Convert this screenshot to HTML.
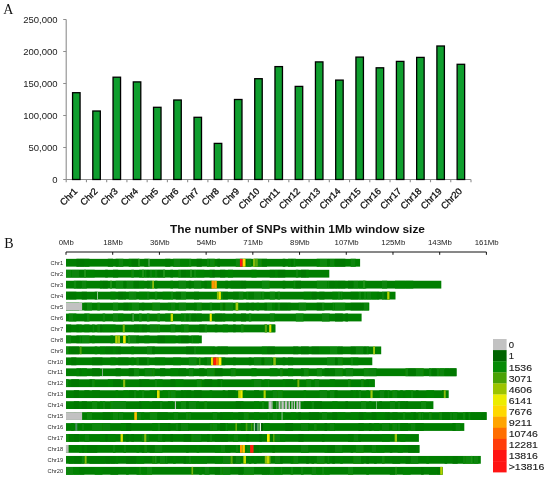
<!DOCTYPE html><html><head><meta charset="utf-8"><style>html,body{margin:0;padding:0;background:#fff}svg{display:block;will-change:transform}text{font-family:"Liberation Sans",sans-serif}</style></head><body>
<svg width="550" height="480" viewBox="0 0 550 480">
<rect width="550" height="480" fill="#fff"/>
<text x="3.3" y="13.8" style="font-family:'Liberation Serif',serif" font-size="14" fill="#111">A</text>
<text x="4.2" y="247.6" style="font-family:'Liberation Serif',serif" font-size="14" fill="#111">B</text>
<g stroke="#8e8e8e" stroke-width="1.1" fill="none">
<path d="M66.2,19.5V179.5H471.0"/>
<path d="M63.2,179.5H66.2M63.2,147.5H66.2M63.2,115.5H66.2M63.2,83.5H66.2M63.2,51.5H66.2M63.2,19.5H66.2M66.20,179.5v2.8M86.44,179.5v2.8M106.68,179.5v2.8M126.92,179.5v2.8M147.16,179.5v2.8M167.40,179.5v2.8M187.64,179.5v2.8M207.88,179.5v2.8M228.12,179.5v2.8M248.36,179.5v2.8M268.60,179.5v2.8M288.84,179.5v2.8M309.08,179.5v2.8M329.32,179.5v2.8M349.56,179.5v2.8M369.80,179.5v2.8M390.04,179.5v2.8M410.28,179.5v2.8M430.52,179.5v2.8M450.76,179.5v2.8M471.00,179.5v2.8"/>
</g>
<text x="57.6" y="182.8" font-size="9.5" text-anchor="end" fill="#1a1a1a">0</text>
<text x="57.6" y="150.8" font-size="9.5" text-anchor="end" fill="#1a1a1a">50,000</text>
<text x="57.6" y="118.8" font-size="9.5" text-anchor="end" fill="#1a1a1a">100,000</text>
<text x="57.6" y="86.8" font-size="9.5" text-anchor="end" fill="#1a1a1a">150,000</text>
<text x="57.6" y="54.8" font-size="9.5" text-anchor="end" fill="#1a1a1a">200,000</text>
<text x="57.6" y="22.8" font-size="9.5" text-anchor="end" fill="#1a1a1a">250,000</text>
<rect x="72.57" y="92.7" width="7.5" height="86.8" fill="#0f9e2e" stroke="#000" stroke-width="1.3"/>
<rect x="92.81" y="111.0" width="7.5" height="68.5" fill="#0f9e2e" stroke="#000" stroke-width="1.3"/>
<rect x="113.05" y="77.2" width="7.5" height="102.3" fill="#0f9e2e" stroke="#000" stroke-width="1.3"/>
<rect x="133.29" y="81.9" width="7.5" height="97.6" fill="#0f9e2e" stroke="#000" stroke-width="1.3"/>
<rect x="153.53" y="107.3" width="7.5" height="72.2" fill="#0f9e2e" stroke="#000" stroke-width="1.3"/>
<rect x="173.77" y="100.0" width="7.5" height="79.5" fill="#0f9e2e" stroke="#000" stroke-width="1.3"/>
<rect x="194.01" y="117.3" width="7.5" height="62.2" fill="#0f9e2e" stroke="#000" stroke-width="1.3"/>
<rect x="214.25" y="143.4" width="7.5" height="36.1" fill="#0f9e2e" stroke="#000" stroke-width="1.3"/>
<rect x="234.49" y="99.5" width="7.5" height="80.0" fill="#0f9e2e" stroke="#000" stroke-width="1.3"/>
<rect x="254.73" y="78.7" width="7.5" height="100.8" fill="#0f9e2e" stroke="#000" stroke-width="1.3"/>
<rect x="274.97" y="66.6" width="7.5" height="112.9" fill="#0f9e2e" stroke="#000" stroke-width="1.3"/>
<rect x="295.21" y="86.4" width="7.5" height="93.1" fill="#0f9e2e" stroke="#000" stroke-width="1.3"/>
<rect x="315.45" y="61.9" width="7.5" height="117.6" fill="#0f9e2e" stroke="#000" stroke-width="1.3"/>
<rect x="335.69" y="80.1" width="7.5" height="99.4" fill="#0f9e2e" stroke="#000" stroke-width="1.3"/>
<rect x="355.93" y="57.1" width="7.5" height="122.4" fill="#0f9e2e" stroke="#000" stroke-width="1.3"/>
<rect x="376.17" y="67.8" width="7.5" height="111.7" fill="#0f9e2e" stroke="#000" stroke-width="1.3"/>
<rect x="396.41" y="61.4" width="7.5" height="118.1" fill="#0f9e2e" stroke="#000" stroke-width="1.3"/>
<rect x="416.65" y="57.4" width="7.5" height="122.1" fill="#0f9e2e" stroke="#000" stroke-width="1.3"/>
<rect x="436.89" y="46.0" width="7.5" height="133.5" fill="#0f9e2e" stroke="#000" stroke-width="1.3"/>
<rect x="457.13" y="64.3" width="7.5" height="115.2" fill="#0f9e2e" stroke="#000" stroke-width="1.3"/>
<text transform="translate(78.02,191.8) rotate(-45)" font-size="9.3" text-anchor="end" fill="#111" stroke="#111" stroke-width="0.3">Chr1</text>
<text transform="translate(98.26,191.8) rotate(-45)" font-size="9.3" text-anchor="end" fill="#111" stroke="#111" stroke-width="0.3">Chr2</text>
<text transform="translate(118.50,191.8) rotate(-45)" font-size="9.3" text-anchor="end" fill="#111" stroke="#111" stroke-width="0.3">Chr3</text>
<text transform="translate(138.74,191.8) rotate(-45)" font-size="9.3" text-anchor="end" fill="#111" stroke="#111" stroke-width="0.3">Chr4</text>
<text transform="translate(158.98,191.8) rotate(-45)" font-size="9.3" text-anchor="end" fill="#111" stroke="#111" stroke-width="0.3">Chr5</text>
<text transform="translate(179.22,191.8) rotate(-45)" font-size="9.3" text-anchor="end" fill="#111" stroke="#111" stroke-width="0.3">Chr6</text>
<text transform="translate(199.46,191.8) rotate(-45)" font-size="9.3" text-anchor="end" fill="#111" stroke="#111" stroke-width="0.3">Chr7</text>
<text transform="translate(219.70,191.8) rotate(-45)" font-size="9.3" text-anchor="end" fill="#111" stroke="#111" stroke-width="0.3">Chr8</text>
<text transform="translate(239.94,191.8) rotate(-45)" font-size="9.3" text-anchor="end" fill="#111" stroke="#111" stroke-width="0.3">Chr9</text>
<text transform="translate(260.18,191.8) rotate(-45)" font-size="9.3" text-anchor="end" fill="#111" stroke="#111" stroke-width="0.3">Chr10</text>
<text transform="translate(280.42,191.8) rotate(-45)" font-size="9.3" text-anchor="end" fill="#111" stroke="#111" stroke-width="0.3">Chr11</text>
<text transform="translate(300.66,191.8) rotate(-45)" font-size="9.3" text-anchor="end" fill="#111" stroke="#111" stroke-width="0.3">Chr12</text>
<text transform="translate(320.90,191.8) rotate(-45)" font-size="9.3" text-anchor="end" fill="#111" stroke="#111" stroke-width="0.3">Chr13</text>
<text transform="translate(341.14,191.8) rotate(-45)" font-size="9.3" text-anchor="end" fill="#111" stroke="#111" stroke-width="0.3">Chr14</text>
<text transform="translate(361.38,191.8) rotate(-45)" font-size="9.3" text-anchor="end" fill="#111" stroke="#111" stroke-width="0.3">Chr15</text>
<text transform="translate(381.62,191.8) rotate(-45)" font-size="9.3" text-anchor="end" fill="#111" stroke="#111" stroke-width="0.3">Chr16</text>
<text transform="translate(401.86,191.8) rotate(-45)" font-size="9.3" text-anchor="end" fill="#111" stroke="#111" stroke-width="0.3">Chr17</text>
<text transform="translate(422.10,191.8) rotate(-45)" font-size="9.3" text-anchor="end" fill="#111" stroke="#111" stroke-width="0.3">Chr18</text>
<text transform="translate(442.34,191.8) rotate(-45)" font-size="9.3" text-anchor="end" fill="#111" stroke="#111" stroke-width="0.3">Chr19</text>
<text transform="translate(462.58,191.8) rotate(-45)" font-size="9.3" text-anchor="end" fill="#111" stroke="#111" stroke-width="0.3">Chr20</text>
<text x="170" y="233.1" font-size="10.7" font-weight="bold" fill="#111" textLength="255" lengthAdjust="spacingAndGlyphs">The number of SNPs within 1Mb window size</text>
<path d="M66.0,254.8V252.0H486.4V254.8" stroke="#111" stroke-width="1" fill="none"/>
<path d="M112.71,252.0v2.8M159.42,252.0v2.8M206.13,252.0v2.8M252.84,252.0v2.8M299.56,252.0v2.8M346.27,252.0v2.8M392.98,252.0v2.8M439.69,252.0v2.8" stroke="#111" stroke-width="1" fill="none"/>
<text x="58.80" y="244.8" font-size="7" fill="#222" textLength="15.0" lengthAdjust="spacingAndGlyphs">0Mb</text>
<text x="103.26" y="244.8" font-size="7" fill="#222" textLength="19.5" lengthAdjust="spacingAndGlyphs">18Mb</text>
<text x="149.97" y="244.8" font-size="7" fill="#222" textLength="19.5" lengthAdjust="spacingAndGlyphs">36Mb</text>
<text x="196.68" y="244.8" font-size="7" fill="#222" textLength="19.5" lengthAdjust="spacingAndGlyphs">54Mb</text>
<text x="243.39" y="244.8" font-size="7" fill="#222" textLength="19.5" lengthAdjust="spacingAndGlyphs">71Mb</text>
<text x="290.11" y="244.8" font-size="7" fill="#222" textLength="19.5" lengthAdjust="spacingAndGlyphs">89Mb</text>
<text x="334.57" y="244.8" font-size="7" fill="#222" textLength="24.0" lengthAdjust="spacingAndGlyphs">107Mb</text>
<text x="381.28" y="244.8" font-size="7" fill="#222" textLength="24.0" lengthAdjust="spacingAndGlyphs">125Mb</text>
<text x="427.99" y="244.8" font-size="7" fill="#222" textLength="24.0" lengthAdjust="spacingAndGlyphs">143Mb</text>
<text x="474.70" y="244.8" font-size="7" fill="#222" textLength="24.0" lengthAdjust="spacingAndGlyphs">161Mb</text>
<defs><filter id="hb" x="-2%" y="-2%" width="104%" height="104%"><feGaussianBlur stdDeviation="0.55 0.3"/></filter></defs><g filter="url(#hb)">
<rect x="66.0" y="258.85" width="294.1" height="7.8" fill="#047e04"/>
<rect x="66.0" y="269.80" width="263.3" height="7.8" fill="#047e04"/>
<rect x="66.0" y="280.75" width="375.3" height="7.8" fill="#047e04"/>
<rect x="66.0" y="291.70" width="329.5" height="7.8" fill="#047e04"/>
<rect x="66.0" y="302.65" width="303.3" height="7.8" fill="#047e04"/>
<rect x="66.0" y="313.60" width="295.6" height="7.8" fill="#047e04"/>
<rect x="66.0" y="324.55" width="209.5" height="7.8" fill="#047e04"/>
<rect x="66.0" y="335.50" width="135.8" height="7.8" fill="#047e04"/>
<rect x="66.0" y="346.45" width="315.2" height="7.8" fill="#047e04"/>
<rect x="66.0" y="357.40" width="306.3" height="7.8" fill="#047e04"/>
<rect x="66.0" y="368.35" width="390.5" height="7.8" fill="#047e04"/>
<rect x="66.0" y="379.30" width="308.9" height="7.8" fill="#047e04"/>
<rect x="66.0" y="390.25" width="382.7" height="7.8" fill="#047e04"/>
<rect x="66.0" y="401.20" width="367.4" height="7.8" fill="#047e04"/>
<rect x="66.0" y="412.15" width="420.7" height="7.8" fill="#047e04"/>
<rect x="66.0" y="423.10" width="398.3" height="7.8" fill="#047e04"/>
<rect x="66.0" y="434.05" width="352.9" height="7.8" fill="#047e04"/>
<rect x="66.0" y="445.00" width="353.4" height="7.8" fill="#047e04"/>
<rect x="66.0" y="455.95" width="414.8" height="7.8" fill="#047e04"/>
<rect x="66.0" y="466.90" width="376.6" height="7.8" fill="#047e04"/>
<path fill="#037803" d="M76.4,258.85h2.6v7.8h-2.6zM79.1,258.85h5.2v7.8h-5.2zM131.3,258.85h7.8v7.8h-7.8zM196.6,258.85h5.2v7.8h-5.2zM217.4,258.85h2.6v7.8h-2.6zM243.6,258.85h2.6v7.8h-2.6zM290.6,258.85h2.6v7.8h-2.6zM335.0,258.85h5.2v7.8h-5.2zM340.2,258.85h5.2v7.8h-5.2zM146.9,269.80h2.6v7.8h-2.6zM157.4,269.80h7.8v7.8h-7.8zM180.9,269.80h5.2v7.8h-5.2zM212.2,269.80h2.6v7.8h-2.6zM277.5,269.80h7.8v7.8h-7.8zM301.0,269.80h5.2v7.8h-5.2zM102.6,280.75h5.2v7.8h-5.2zM123.4,280.75h2.6v7.8h-2.6zM133.9,280.75h5.2v7.8h-5.2zM188.7,280.75h2.6v7.8h-2.6zM204.4,280.75h2.6v7.8h-2.6zM240.9,280.75h2.6v7.8h-2.6zM243.6,280.75h2.6v7.8h-2.6zM295.8,280.75h5.2v7.8h-5.2zM329.7,280.75h5.2v7.8h-5.2zM337.6,280.75h2.6v7.8h-2.6zM348.0,280.75h2.6v7.8h-2.6zM350.6,280.75h2.6v7.8h-2.6zM68.6,291.70h7.8v7.8h-7.8zM81.7,291.70h5.2v7.8h-5.2zM94.7,291.70h2.6v7.8h-2.6zM118.2,291.70h5.2v7.8h-5.2zM175.7,291.70h5.2v7.8h-5.2zM222.7,291.70h5.2v7.8h-5.2zM311.5,291.70h5.2v7.8h-5.2zM384.6,291.70h5.2v7.8h-5.2zM123.4,302.65h5.2v7.8h-5.2zM222.7,302.65h2.6v7.8h-2.6zM264.4,302.65h2.6v7.8h-2.6zM274.9,302.65h2.6v7.8h-2.6zM280.1,302.65h7.8v7.8h-7.8zM316.7,302.65h5.2v7.8h-5.2zM350.6,302.65h5.2v7.8h-5.2zM355.8,302.65h5.2v7.8h-5.2zM361.1,302.65h2.6v7.8h-2.6zM131.3,313.60h2.6v7.8h-2.6zM191.3,313.60h5.2v7.8h-5.2zM214.8,313.60h7.8v7.8h-7.8zM240.9,313.60h5.2v7.8h-5.2zM335.0,313.60h7.8v7.8h-7.8zM345.4,313.60h2.6v7.8h-2.6zM66.0,324.55h5.2v7.8h-5.2zM99.9,324.55h2.6v7.8h-2.6zM141.7,324.55h2.6v7.8h-2.6zM199.2,324.55h5.2v7.8h-5.2zM233.1,324.55h2.6v7.8h-2.6zM157.4,335.50h7.8v7.8h-7.8zM180.9,335.50h7.8v7.8h-7.8zM71.2,346.45h7.8v7.8h-7.8zM118.2,346.45h2.6v7.8h-2.6zM152.2,346.45h2.6v7.8h-2.6zM186.1,346.45h5.2v7.8h-5.2zM191.3,346.45h2.6v7.8h-2.6zM267.1,346.45h7.8v7.8h-7.8zM293.2,346.45h2.6v7.8h-2.6zM301.0,346.45h7.8v7.8h-7.8zM311.5,346.45h7.8v7.8h-7.8zM340.2,346.45h2.6v7.8h-2.6zM350.6,346.45h5.2v7.8h-5.2zM363.7,346.45h2.6v7.8h-2.6zM71.2,357.40h2.6v7.8h-2.6zM73.8,357.40h2.6v7.8h-2.6zM92.1,357.40h2.6v7.8h-2.6zM94.7,357.40h5.2v7.8h-5.2zM99.9,357.40h2.6v7.8h-2.6zM139.1,357.40h7.8v7.8h-7.8zM261.8,357.40h2.6v7.8h-2.6zM335.0,357.40h2.6v7.8h-2.6zM92.1,368.35h7.8v7.8h-7.8zM128.7,368.35h5.2v7.8h-5.2zM214.8,368.35h7.8v7.8h-7.8zM324.5,368.35h5.2v7.8h-5.2zM408.1,368.35h7.8v7.8h-7.8zM431.6,368.35h5.2v7.8h-5.2zM449.8,368.35h6.7v7.8h-6.7zM71.2,379.30h7.8v7.8h-7.8zM89.5,379.30h2.6v7.8h-2.6zM113.0,379.30h7.8v7.8h-7.8zM139.1,379.30h2.6v7.8h-2.6zM170.4,379.30h5.2v7.8h-5.2zM204.4,379.30h7.8v7.8h-7.8zM217.4,379.30h2.6v7.8h-2.6zM73.8,390.25h5.2v7.8h-5.2zM154.8,390.25h5.2v7.8h-5.2zM180.9,390.25h2.6v7.8h-2.6zM186.1,390.25h5.2v7.8h-5.2zM193.9,390.25h7.8v7.8h-7.8zM227.9,390.25h7.8v7.8h-7.8zM335.0,390.25h2.6v7.8h-2.6zM73.8,401.20h5.2v7.8h-5.2zM81.7,401.20h5.2v7.8h-5.2zM139.1,401.20h2.6v7.8h-2.6zM186.1,401.20h2.6v7.8h-2.6zM235.7,401.20h5.2v7.8h-5.2zM303.6,401.20h2.6v7.8h-2.6zM306.2,401.20h5.2v7.8h-5.2zM314.1,401.20h7.8v7.8h-7.8zM345.4,401.20h2.6v7.8h-2.6zM405.5,401.20h2.6v7.8h-2.6zM102.6,412.15h7.8v7.8h-7.8zM220.1,412.15h2.6v7.8h-2.6zM298.4,412.15h2.6v7.8h-2.6zM308.8,412.15h2.6v7.8h-2.6zM311.5,412.15h7.8v7.8h-7.8zM332.3,412.15h5.2v7.8h-5.2zM358.5,412.15h5.2v7.8h-5.2zM371.5,412.15h5.2v7.8h-5.2zM387.2,412.15h2.6v7.8h-2.6zM413.3,412.15h2.6v7.8h-2.6zM465.5,412.15h2.6v7.8h-2.6zM481.2,412.15h5.2v7.8h-5.2zM126.1,423.10h5.2v7.8h-5.2zM167.8,423.10h2.6v7.8h-2.6zM220.1,423.10h5.2v7.8h-5.2zM251.4,423.10h2.6v7.8h-2.6zM285.3,423.10h7.8v7.8h-7.8zM324.5,423.10h2.6v7.8h-2.6zM73.8,434.05h5.2v7.8h-5.2zM105.2,434.05h2.6v7.8h-2.6zM126.1,434.05h2.6v7.8h-2.6zM170.4,434.05h2.6v7.8h-2.6zM183.5,434.05h7.8v7.8h-7.8zM220.1,434.05h7.8v7.8h-7.8zM246.2,434.05h2.6v7.8h-2.6zM259.2,434.05h2.6v7.8h-2.6zM298.4,434.05h5.2v7.8h-5.2zM81.7,445.00h2.6v7.8h-2.6zM86.9,445.00h2.6v7.8h-2.6zM89.5,445.00h7.8v7.8h-7.8zM149.6,445.00h5.2v7.8h-5.2zM254.0,445.00h5.2v7.8h-5.2zM272.3,445.00h2.6v7.8h-2.6zM327.1,445.00h7.8v7.8h-7.8zM408.1,445.00h7.8v7.8h-7.8zM73.8,455.95h7.8v7.8h-7.8zM105.2,455.95h5.2v7.8h-5.2zM126.1,455.95h7.8v7.8h-7.8zM133.9,455.95h2.6v7.8h-2.6zM183.5,455.95h2.6v7.8h-2.6zM233.1,455.95h2.6v7.8h-2.6zM243.6,455.95h2.6v7.8h-2.6zM280.1,455.95h2.6v7.8h-2.6zM306.2,455.95h2.6v7.8h-2.6zM332.3,455.95h2.6v7.8h-2.6zM366.3,455.95h2.6v7.8h-2.6zM405.5,455.95h5.2v7.8h-5.2zM452.5,455.95h2.6v7.8h-2.6zM455.1,455.95h2.6v7.8h-2.6zM214.8,466.90h5.2v7.8h-5.2zM238.3,466.90h5.2v7.8h-5.2zM421.1,466.90h2.6v7.8h-2.6zM436.8,466.90h5.8v7.8h-5.8z"/>
<path fill="#037b03" d="M84.3,258.85h5.2v7.8h-5.2zM107.8,258.85h5.2v7.8h-5.2zM115.6,258.85h2.6v7.8h-2.6zM144.3,258.85h5.2v7.8h-5.2zM165.2,258.85h5.2v7.8h-5.2zM261.8,258.85h5.2v7.8h-5.2zM282.7,258.85h2.6v7.8h-2.6zM327.1,258.85h2.6v7.8h-2.6zM79.1,269.80h7.8v7.8h-7.8zM105.2,269.80h2.6v7.8h-2.6zM113.0,269.80h5.2v7.8h-5.2zM170.4,269.80h2.6v7.8h-2.6zM186.1,269.80h7.8v7.8h-7.8zM220.1,269.80h2.6v7.8h-2.6zM222.7,269.80h2.6v7.8h-2.6zM269.7,269.80h5.2v7.8h-5.2zM76.4,280.75h5.2v7.8h-5.2zM99.9,280.75h2.6v7.8h-2.6zM146.9,280.75h2.6v7.8h-2.6zM154.8,280.75h2.6v7.8h-2.6zM225.3,280.75h2.6v7.8h-2.6zM230.5,280.75h7.8v7.8h-7.8zM238.3,280.75h2.6v7.8h-2.6zM282.7,280.75h2.6v7.8h-2.6zM335.0,280.75h2.6v7.8h-2.6zM340.2,280.75h5.2v7.8h-5.2zM66.0,291.70h2.6v7.8h-2.6zM123.4,291.70h2.6v7.8h-2.6zM193.9,291.70h5.2v7.8h-5.2zM233.1,291.70h5.2v7.8h-5.2zM248.8,291.70h5.2v7.8h-5.2zM319.3,291.70h5.2v7.8h-5.2zM350.6,291.70h7.8v7.8h-7.8zM361.1,291.70h2.6v7.8h-2.6zM376.7,291.70h2.6v7.8h-2.6zM84.3,302.65h2.6v7.8h-2.6zM141.7,302.65h2.6v7.8h-2.6zM193.9,302.65h2.6v7.8h-2.6zM246.2,302.65h2.6v7.8h-2.6zM251.4,302.65h2.6v7.8h-2.6zM288.0,302.65h2.6v7.8h-2.6zM84.3,313.60h2.6v7.8h-2.6zM186.1,313.60h2.6v7.8h-2.6zM196.6,313.60h5.2v7.8h-5.2zM222.7,313.60h2.6v7.8h-2.6zM233.1,313.60h2.6v7.8h-2.6zM76.4,324.55h2.6v7.8h-2.6zM133.9,324.55h5.2v7.8h-5.2zM144.3,324.55h2.6v7.8h-2.6zM214.8,324.55h2.6v7.8h-2.6zM76.4,335.50h2.6v7.8h-2.6zM136.5,335.50h2.6v7.8h-2.6zM68.6,346.45h2.6v7.8h-2.6zM105.2,346.45h7.8v7.8h-7.8zM115.6,346.45h2.6v7.8h-2.6zM212.2,346.45h2.6v7.8h-2.6zM217.4,346.45h2.6v7.8h-2.6zM220.1,346.45h7.8v7.8h-7.8zM295.8,346.45h2.6v7.8h-2.6zM337.6,346.45h2.6v7.8h-2.6zM118.2,357.40h2.6v7.8h-2.6zM120.8,357.40h7.8v7.8h-7.8zM154.8,357.40h5.2v7.8h-5.2zM204.4,357.40h2.6v7.8h-2.6zM220.1,357.40h5.2v7.8h-5.2zM233.1,357.40h2.6v7.8h-2.6zM248.8,357.40h2.6v7.8h-2.6zM282.7,357.40h2.6v7.8h-2.6zM288.0,357.40h5.2v7.8h-5.2zM79.1,368.35h2.6v7.8h-2.6zM115.6,368.35h5.2v7.8h-5.2zM160.0,368.35h5.2v7.8h-5.2zM178.3,368.35h7.8v7.8h-7.8zM199.2,368.35h5.2v7.8h-5.2zM301.0,368.35h2.6v7.8h-2.6zM329.7,368.35h5.2v7.8h-5.2zM444.6,368.35h5.2v7.8h-5.2zM141.7,379.30h7.8v7.8h-7.8zM285.3,379.30h7.8v7.8h-7.8zM295.8,379.30h2.6v7.8h-2.6zM366.3,379.30h2.6v7.8h-2.6zM84.3,390.25h5.2v7.8h-5.2zM92.1,390.25h7.8v7.8h-7.8zM128.7,390.25h5.2v7.8h-5.2zM183.5,390.25h2.6v7.8h-2.6zM222.7,390.25h2.6v7.8h-2.6zM254.0,390.25h5.2v7.8h-5.2zM350.6,390.25h2.6v7.8h-2.6zM355.8,390.25h2.6v7.8h-2.6zM384.6,390.25h2.6v7.8h-2.6zM415.9,390.25h2.6v7.8h-2.6zM442.0,390.25h2.6v7.8h-2.6zM152.2,401.20h5.2v7.8h-5.2zM157.4,401.20h2.6v7.8h-2.6zM167.8,401.20h2.6v7.8h-2.6zM240.9,401.20h2.6v7.8h-2.6zM272.3,401.20h2.6v7.8h-2.6zM274.9,401.20h2.6v7.8h-2.6zM379.3,401.20h2.6v7.8h-2.6zM400.2,401.20h5.2v7.8h-5.2zM157.4,412.15h5.2v7.8h-5.2zM162.6,412.15h5.2v7.8h-5.2zM222.7,412.15h7.8v7.8h-7.8zM238.3,412.15h5.2v7.8h-5.2zM384.6,412.15h2.6v7.8h-2.6zM392.4,412.15h5.2v7.8h-5.2zM442.0,412.15h7.8v7.8h-7.8zM470.7,412.15h5.2v7.8h-5.2zM476.0,412.15h5.2v7.8h-5.2zM160.0,423.10h7.8v7.8h-7.8zM178.3,423.10h2.6v7.8h-2.6zM240.9,423.10h5.2v7.8h-5.2zM254.0,423.10h5.2v7.8h-5.2zM358.5,423.10h5.2v7.8h-5.2zM368.9,423.10h2.6v7.8h-2.6zM400.2,423.10h7.8v7.8h-7.8zM415.9,423.10h7.8v7.8h-7.8zM452.5,423.10h2.6v7.8h-2.6zM68.6,434.05h5.2v7.8h-5.2zM131.3,434.05h2.6v7.8h-2.6zM162.6,434.05h2.6v7.8h-2.6zM207.0,434.05h2.6v7.8h-2.6zM214.8,434.05h5.2v7.8h-5.2zM267.1,434.05h7.8v7.8h-7.8zM321.9,434.05h2.6v7.8h-2.6zM348.0,434.05h5.2v7.8h-5.2zM358.5,434.05h2.6v7.8h-2.6zM141.7,445.00h2.6v7.8h-2.6zM186.1,445.00h2.6v7.8h-2.6zM225.3,445.00h5.2v7.8h-5.2zM350.6,445.00h2.6v7.8h-2.6zM389.8,445.00h2.6v7.8h-2.6zM415.9,445.00h3.5v7.8h-3.5zM68.6,455.95h5.2v7.8h-5.2zM89.5,455.95h7.8v7.8h-7.8zM97.3,455.95h7.8v7.8h-7.8zM110.4,455.95h5.2v7.8h-5.2zM311.5,455.95h2.6v7.8h-2.6zM361.1,455.95h2.6v7.8h-2.6zM374.1,455.95h2.6v7.8h-2.6zM392.4,455.95h7.8v7.8h-7.8zM444.6,455.95h2.6v7.8h-2.6zM79.1,466.90h5.2v7.8h-5.2zM110.4,466.90h7.8v7.8h-7.8zM261.8,466.90h5.2v7.8h-5.2zM267.1,466.90h2.6v7.8h-2.6zM389.8,466.90h5.2v7.8h-5.2zM429.0,466.90h2.6v7.8h-2.6zM431.6,466.90h5.2v7.8h-5.2z"/>
<path fill="#078407" d="M118.2,258.85h5.2v7.8h-5.2zM173.1,258.85h2.6v7.8h-2.6zM175.7,258.85h5.2v7.8h-5.2zM207.0,258.85h2.6v7.8h-2.6zM246.2,258.85h5.2v7.8h-5.2zM293.2,258.85h2.6v7.8h-2.6zM329.7,258.85h5.2v7.8h-5.2zM350.6,258.85h5.2v7.8h-5.2zM71.2,269.80h5.2v7.8h-5.2zM76.4,269.80h2.6v7.8h-2.6zM144.3,269.80h2.6v7.8h-2.6zM149.6,269.80h2.6v7.8h-2.6zM154.8,269.80h2.6v7.8h-2.6zM295.8,269.80h2.6v7.8h-2.6zM81.7,280.75h5.2v7.8h-5.2zM126.1,280.75h7.8v7.8h-7.8zM149.6,280.75h2.6v7.8h-2.6zM178.3,280.75h7.8v7.8h-7.8zM193.9,280.75h7.8v7.8h-7.8zM293.2,280.75h2.6v7.8h-2.6zM327.1,280.75h2.6v7.8h-2.6zM353.2,280.75h5.2v7.8h-5.2zM382.0,280.75h5.2v7.8h-5.2zM133.9,291.70h2.6v7.8h-2.6zM146.9,291.70h2.6v7.8h-2.6zM238.3,291.70h5.2v7.8h-5.2zM246.2,291.70h2.6v7.8h-2.6zM254.0,291.70h7.8v7.8h-7.8zM277.5,291.70h2.6v7.8h-2.6zM340.2,291.70h2.6v7.8h-2.6zM366.3,291.70h5.2v7.8h-5.2zM382.0,291.70h2.6v7.8h-2.6zM71.2,302.65h2.6v7.8h-2.6zM170.4,302.65h5.2v7.8h-5.2zM178.3,302.65h2.6v7.8h-2.6zM180.9,302.65h5.2v7.8h-5.2zM235.7,302.65h2.6v7.8h-2.6zM277.5,302.65h2.6v7.8h-2.6zM298.4,302.65h7.8v7.8h-7.8zM321.9,302.65h2.6v7.8h-2.6zM332.3,302.65h2.6v7.8h-2.6zM363.7,302.65h5.2v7.8h-5.2zM68.6,313.60h5.2v7.8h-5.2zM102.6,313.60h2.6v7.8h-2.6zM113.0,313.60h5.2v7.8h-5.2zM183.5,313.60h2.6v7.8h-2.6zM188.7,313.60h2.6v7.8h-2.6zM248.8,313.60h2.6v7.8h-2.6zM269.7,313.60h2.6v7.8h-2.6zM272.3,313.60h2.6v7.8h-2.6zM321.9,313.60h7.8v7.8h-7.8zM92.1,324.55h2.6v7.8h-2.6zM149.6,324.55h7.8v7.8h-7.8zM170.4,324.55h5.2v7.8h-5.2zM204.4,324.55h2.6v7.8h-2.6zM66.0,335.50h5.2v7.8h-5.2zM79.1,335.50h2.6v7.8h-2.6zM128.7,335.50h2.6v7.8h-2.6zM131.3,335.50h5.2v7.8h-5.2zM191.3,335.50h2.6v7.8h-2.6zM146.9,346.45h5.2v7.8h-5.2zM193.9,346.45h2.6v7.8h-2.6zM355.8,346.45h7.8v7.8h-7.8zM366.3,346.45h2.6v7.8h-2.6zM146.9,357.40h2.6v7.8h-2.6zM207.0,357.40h5.2v7.8h-5.2zM254.0,357.40h7.8v7.8h-7.8zM144.3,368.35h7.8v7.8h-7.8zM188.7,368.35h5.2v7.8h-5.2zM230.5,368.35h2.6v7.8h-2.6zM345.4,368.35h7.8v7.8h-7.8zM368.9,368.35h7.8v7.8h-7.8zM429.0,368.35h2.6v7.8h-2.6zM439.4,368.35h5.2v7.8h-5.2zM66.0,379.30h2.6v7.8h-2.6zM154.8,379.30h2.6v7.8h-2.6zM220.1,379.30h2.6v7.8h-2.6zM254.0,379.30h7.8v7.8h-7.8zM267.1,379.30h2.6v7.8h-2.6zM314.1,379.30h5.2v7.8h-5.2zM133.9,390.25h2.6v7.8h-2.6zM167.8,390.25h2.6v7.8h-2.6zM272.3,390.25h2.6v7.8h-2.6zM274.9,390.25h2.6v7.8h-2.6zM319.3,390.25h7.8v7.8h-7.8zM329.7,390.25h5.2v7.8h-5.2zM358.5,390.25h2.6v7.8h-2.6zM379.3,390.25h5.2v7.8h-5.2zM387.2,390.25h2.6v7.8h-2.6zM395.0,390.25h2.6v7.8h-2.6zM102.6,401.20h2.6v7.8h-2.6zM113.0,401.20h5.2v7.8h-5.2zM118.2,401.20h7.8v7.8h-7.8zM160.0,401.20h2.6v7.8h-2.6zM188.7,401.20h7.8v7.8h-7.8zM311.5,401.20h2.6v7.8h-2.6zM389.8,401.20h5.2v7.8h-5.2zM397.6,401.20h2.6v7.8h-2.6zM73.8,412.15h2.6v7.8h-2.6zM118.2,412.15h5.2v7.8h-5.2zM133.9,412.15h7.8v7.8h-7.8zM173.1,412.15h5.2v7.8h-5.2zM188.7,412.15h2.6v7.8h-2.6zM212.2,412.15h5.2v7.8h-5.2zM267.1,412.15h2.6v7.8h-2.6zM272.3,412.15h5.2v7.8h-5.2zM321.9,412.15h5.2v7.8h-5.2zM421.1,412.15h2.6v7.8h-2.6zM449.8,412.15h2.6v7.8h-2.6zM452.5,412.15h5.2v7.8h-5.2zM468.1,412.15h2.6v7.8h-2.6zM81.7,423.10h2.6v7.8h-2.6zM102.6,423.10h7.8v7.8h-7.8zM175.7,423.10h2.6v7.8h-2.6zM180.9,423.10h7.8v7.8h-7.8zM209.6,423.10h2.6v7.8h-2.6zM225.3,423.10h2.6v7.8h-2.6zM246.2,423.10h5.2v7.8h-5.2zM301.0,423.10h7.8v7.8h-7.8zM329.7,423.10h5.2v7.8h-5.2zM382.0,423.10h7.8v7.8h-7.8zM395.0,423.10h2.6v7.8h-2.6zM410.7,423.10h5.2v7.8h-5.2zM455.1,423.10h2.6v7.8h-2.6zM457.7,423.10h2.6v7.8h-2.6zM84.3,434.05h5.2v7.8h-5.2zM141.7,434.05h7.8v7.8h-7.8zM157.4,434.05h5.2v7.8h-5.2zM193.9,434.05h7.8v7.8h-7.8zM233.1,434.05h5.2v7.8h-5.2zM274.9,434.05h5.2v7.8h-5.2zM353.2,434.05h5.2v7.8h-5.2zM113.0,445.00h2.6v7.8h-2.6zM123.4,445.00h2.6v7.8h-2.6zM154.8,445.00h5.2v7.8h-5.2zM160.0,445.00h2.6v7.8h-2.6zM220.1,445.00h5.2v7.8h-5.2zM235.7,445.00h2.6v7.8h-2.6zM246.2,445.00h5.2v7.8h-5.2zM301.0,445.00h7.8v7.8h-7.8zM335.0,445.00h7.8v7.8h-7.8zM371.5,445.00h5.2v7.8h-5.2zM165.2,455.95h2.6v7.8h-2.6zM188.7,455.95h2.6v7.8h-2.6zM222.7,455.95h7.8v7.8h-7.8zM235.7,455.95h5.2v7.8h-5.2zM274.9,455.95h5.2v7.8h-5.2zM327.1,455.95h2.6v7.8h-2.6zM410.7,455.95h7.8v7.8h-7.8zM462.9,455.95h2.6v7.8h-2.6zM473.3,455.95h5.2v7.8h-5.2zM66.0,466.90h7.8v7.8h-7.8zM204.4,466.90h5.2v7.8h-5.2zM222.7,466.90h2.6v7.8h-2.6zM225.3,466.90h5.2v7.8h-5.2zM269.7,466.90h5.2v7.8h-5.2zM280.1,466.90h2.6v7.8h-2.6zM301.0,466.90h2.6v7.8h-2.6zM311.5,466.90h5.2v7.8h-5.2z"/>
<path fill="#0a8808" d="M188.7,258.85h2.6v7.8h-2.6zM209.6,258.85h5.2v7.8h-5.2zM235.7,258.85h7.8v7.8h-7.8zM254.0,258.85h5.2v7.8h-5.2zM259.2,258.85h2.6v7.8h-2.6zM319.3,258.85h5.2v7.8h-5.2zM324.5,258.85h2.6v7.8h-2.6zM66.0,269.80h5.2v7.8h-5.2zM131.3,269.80h2.6v7.8h-2.6zM178.3,269.80h2.6v7.8h-2.6zM193.9,269.80h2.6v7.8h-2.6zM73.8,280.75h2.6v7.8h-2.6zM115.6,280.75h2.6v7.8h-2.6zM118.2,280.75h5.2v7.8h-5.2zM261.8,280.75h7.8v7.8h-7.8zM316.7,280.75h7.8v7.8h-7.8zM324.5,280.75h2.6v7.8h-2.6zM128.7,291.70h5.2v7.8h-5.2zM154.8,291.70h2.6v7.8h-2.6zM170.4,291.70h2.6v7.8h-2.6zM180.9,291.70h5.2v7.8h-5.2zM220.1,291.70h2.6v7.8h-2.6zM261.8,291.70h2.6v7.8h-2.6zM269.7,291.70h5.2v7.8h-5.2zM337.6,291.70h2.6v7.8h-2.6zM358.5,291.70h2.6v7.8h-2.6zM363.7,291.70h2.6v7.8h-2.6zM86.9,302.65h5.2v7.8h-5.2zM97.3,302.65h2.6v7.8h-2.6zM113.0,302.65h5.2v7.8h-5.2zM131.3,302.65h7.8v7.8h-7.8zM152.2,302.65h7.8v7.8h-7.8zM196.6,302.65h5.2v7.8h-5.2zM209.6,302.65h2.6v7.8h-2.6zM220.1,302.65h2.6v7.8h-2.6zM225.3,302.65h7.8v7.8h-7.8zM267.1,302.65h5.2v7.8h-5.2zM335.0,302.65h5.2v7.8h-5.2zM340.2,302.65h2.6v7.8h-2.6zM342.8,302.65h2.6v7.8h-2.6zM86.9,313.60h2.6v7.8h-2.6zM139.1,313.60h2.6v7.8h-2.6zM146.9,313.60h2.6v7.8h-2.6zM157.4,313.60h2.6v7.8h-2.6zM295.8,313.60h2.6v7.8h-2.6zM298.4,313.60h5.2v7.8h-5.2zM97.3,324.55h2.6v7.8h-2.6zM157.4,324.55h2.6v7.8h-2.6zM183.5,324.55h5.2v7.8h-5.2zM240.9,324.55h2.6v7.8h-2.6zM81.7,335.50h7.8v7.8h-7.8zM66.0,346.45h2.6v7.8h-2.6zM329.7,346.45h7.8v7.8h-7.8zM136.5,357.40h2.6v7.8h-2.6zM188.7,357.40h7.8v7.8h-7.8zM264.4,357.40h2.6v7.8h-2.6zM267.1,357.40h5.2v7.8h-5.2zM327.1,357.40h7.8v7.8h-7.8zM337.6,357.40h5.2v7.8h-5.2zM350.6,357.40h2.6v7.8h-2.6zM133.9,368.35h2.6v7.8h-2.6zM136.5,368.35h2.6v7.8h-2.6zM152.2,368.35h2.6v7.8h-2.6zM207.0,368.35h7.8v7.8h-7.8zM233.1,368.35h2.6v7.8h-2.6zM280.1,368.35h2.6v7.8h-2.6zM303.6,368.35h5.2v7.8h-5.2zM316.7,368.35h5.2v7.8h-5.2zM335.0,368.35h7.8v7.8h-7.8zM363.7,368.35h5.2v7.8h-5.2zM405.5,368.35h2.6v7.8h-2.6zM415.9,368.35h7.8v7.8h-7.8zM436.8,368.35h2.6v7.8h-2.6zM92.1,379.30h2.6v7.8h-2.6zM196.6,379.30h5.2v7.8h-5.2zM306.2,379.30h5.2v7.8h-5.2zM348.0,379.30h2.6v7.8h-2.6zM361.1,379.30h2.6v7.8h-2.6zM141.7,390.25h2.6v7.8h-2.6zM170.4,390.25h5.2v7.8h-5.2zM277.5,390.25h5.2v7.8h-5.2zM392.4,390.25h2.6v7.8h-2.6zM410.7,390.25h2.6v7.8h-2.6zM92.1,401.20h2.6v7.8h-2.6zM94.7,401.20h2.6v7.8h-2.6zM110.4,401.20h2.6v7.8h-2.6zM180.9,401.20h5.2v7.8h-5.2zM204.4,401.20h2.6v7.8h-2.6zM261.8,401.20h2.6v7.8h-2.6zM282.7,401.20h2.6v7.8h-2.6zM361.1,401.20h5.2v7.8h-5.2zM421.1,401.20h5.2v7.8h-5.2zM86.9,412.15h5.2v7.8h-5.2zM113.0,412.15h5.2v7.8h-5.2zM149.6,412.15h7.8v7.8h-7.8zM186.1,412.15h2.6v7.8h-2.6zM243.6,412.15h5.2v7.8h-5.2zM402.8,412.15h2.6v7.8h-2.6zM418.5,412.15h2.6v7.8h-2.6zM429.0,412.15h2.6v7.8h-2.6zM439.4,412.15h2.6v7.8h-2.6zM462.9,412.15h2.6v7.8h-2.6zM92.1,423.10h5.2v7.8h-5.2zM97.3,423.10h5.2v7.8h-5.2zM157.4,423.10h2.6v7.8h-2.6zM212.2,423.10h5.2v7.8h-5.2zM314.1,423.10h2.6v7.8h-2.6zM392.4,423.10h2.6v7.8h-2.6zM397.6,423.10h2.6v7.8h-2.6zM66.0,434.05h2.6v7.8h-2.6zM191.3,434.05h2.6v7.8h-2.6zM209.6,434.05h2.6v7.8h-2.6zM144.3,445.00h2.6v7.8h-2.6zM355.8,445.00h7.8v7.8h-7.8zM81.7,455.95h2.6v7.8h-2.6zM152.2,455.95h2.6v7.8h-2.6zM160.0,455.95h5.2v7.8h-5.2zM267.1,455.95h2.6v7.8h-2.6zM293.2,455.95h5.2v7.8h-5.2zM316.7,455.95h7.8v7.8h-7.8zM353.2,455.95h7.8v7.8h-7.8zM382.0,455.95h2.6v7.8h-2.6zM465.5,455.95h7.8v7.8h-7.8zM139.1,466.90h2.6v7.8h-2.6zM146.9,466.90h5.2v7.8h-5.2zM220.1,466.90h2.6v7.8h-2.6zM243.6,466.90h2.6v7.8h-2.6zM246.2,466.90h7.8v7.8h-7.8zM290.6,466.90h2.6v7.8h-2.6zM321.9,466.90h2.6v7.8h-2.6zM348.0,466.90h5.2v7.8h-5.2z"/>
<path fill="#068206" d="M128.7,258.85h2.6v7.8h-2.6zM180.9,258.85h7.8v7.8h-7.8zM288.0,258.85h2.6v7.8h-2.6zM316.7,258.85h2.6v7.8h-2.6zM86.9,269.80h5.2v7.8h-5.2zM92.1,269.80h2.6v7.8h-2.6zM139.1,269.80h5.2v7.8h-5.2zM152.2,269.80h2.6v7.8h-2.6zM196.6,269.80h7.8v7.8h-7.8zM209.6,269.80h2.6v7.8h-2.6zM227.9,269.80h5.2v7.8h-5.2zM251.4,269.80h5.2v7.8h-5.2zM274.9,269.80h2.6v7.8h-2.6zM306.2,269.80h2.6v7.8h-2.6zM139.1,280.75h5.2v7.8h-5.2zM170.4,280.75h2.6v7.8h-2.6zM207.0,280.75h5.2v7.8h-5.2zM358.5,280.75h7.8v7.8h-7.8zM395.0,280.75h2.6v7.8h-2.6zM397.6,280.75h7.8v7.8h-7.8zM405.5,280.75h7.8v7.8h-7.8zM110.4,291.70h5.2v7.8h-5.2zM139.1,291.70h7.8v7.8h-7.8zM162.6,291.70h7.8v7.8h-7.8zM303.6,291.70h7.8v7.8h-7.8zM332.3,291.70h5.2v7.8h-5.2zM371.5,291.70h5.2v7.8h-5.2zM66.0,302.65h5.2v7.8h-5.2zM73.8,302.65h2.6v7.8h-2.6zM76.4,302.65h2.6v7.8h-2.6zM128.7,302.65h2.6v7.8h-2.6zM167.8,302.65h2.6v7.8h-2.6zM256.6,302.65h2.6v7.8h-2.6zM272.3,302.65h2.6v7.8h-2.6zM73.8,313.60h2.6v7.8h-2.6zM118.2,313.60h5.2v7.8h-5.2zM165.2,313.60h7.8v7.8h-7.8zM180.9,313.60h2.6v7.8h-2.6zM79.1,324.55h2.6v7.8h-2.6zM84.3,324.55h5.2v7.8h-5.2zM102.6,324.55h5.2v7.8h-5.2zM107.8,324.55h7.8v7.8h-7.8zM139.1,324.55h2.6v7.8h-2.6zM180.9,324.55h2.6v7.8h-2.6zM222.7,324.55h5.2v7.8h-5.2zM264.4,324.55h2.6v7.8h-2.6zM269.7,324.55h5.2v7.8h-5.2zM92.1,335.50h2.6v7.8h-2.6zM110.4,335.50h2.6v7.8h-2.6zM144.3,335.50h2.6v7.8h-2.6zM146.9,335.50h2.6v7.8h-2.6zM165.2,335.50h2.6v7.8h-2.6zM167.8,335.50h7.8v7.8h-7.8zM178.3,335.50h2.6v7.8h-2.6zM193.9,335.50h5.2v7.8h-5.2zM94.7,346.45h2.6v7.8h-2.6zM99.9,346.45h5.2v7.8h-5.2zM113.0,346.45h2.6v7.8h-2.6zM131.3,346.45h2.6v7.8h-2.6zM196.6,346.45h7.8v7.8h-7.8zM204.4,346.45h7.8v7.8h-7.8zM261.8,346.45h5.2v7.8h-5.2zM319.3,346.45h7.8v7.8h-7.8zM327.1,346.45h2.6v7.8h-2.6zM110.4,357.40h5.2v7.8h-5.2zM131.3,357.40h2.6v7.8h-2.6zM160.0,357.40h5.2v7.8h-5.2zM173.1,357.40h7.8v7.8h-7.8zM353.2,357.40h5.2v7.8h-5.2zM76.4,368.35h2.6v7.8h-2.6zM81.7,368.35h5.2v7.8h-5.2zM170.4,368.35h7.8v7.8h-7.8zM251.4,368.35h5.2v7.8h-5.2zM269.7,368.35h7.8v7.8h-7.8zM288.0,368.35h5.2v7.8h-5.2zM107.8,379.30h5.2v7.8h-5.2zM157.4,379.30h2.6v7.8h-2.6zM160.0,379.30h2.6v7.8h-2.6zM175.7,379.30h7.8v7.8h-7.8zM251.4,379.30h2.6v7.8h-2.6zM264.4,379.30h2.6v7.8h-2.6zM282.7,379.30h2.6v7.8h-2.6zM329.7,379.30h5.2v7.8h-5.2zM368.9,379.30h5.2v7.8h-5.2zM115.6,390.25h2.6v7.8h-2.6zM123.4,390.25h5.2v7.8h-5.2zM139.1,390.25h2.6v7.8h-2.6zM149.6,390.25h2.6v7.8h-2.6zM152.2,390.25h2.6v7.8h-2.6zM162.6,390.25h5.2v7.8h-5.2zM209.6,390.25h2.6v7.8h-2.6zM243.6,390.25h2.6v7.8h-2.6zM303.6,390.25h2.6v7.8h-2.6zM353.2,390.25h2.6v7.8h-2.6zM366.3,390.25h2.6v7.8h-2.6zM400.2,390.25h2.6v7.8h-2.6zM405.5,390.25h5.2v7.8h-5.2zM426.3,390.25h7.8v7.8h-7.8zM99.9,401.20h2.6v7.8h-2.6zM141.7,401.20h7.8v7.8h-7.8zM170.4,401.20h2.6v7.8h-2.6zM196.6,401.20h2.6v7.8h-2.6zM254.0,401.20h5.2v7.8h-5.2zM290.6,401.20h2.6v7.8h-2.6zM295.8,401.20h5.2v7.8h-5.2zM332.3,401.20h2.6v7.8h-2.6zM335.0,401.20h2.6v7.8h-2.6zM368.9,401.20h2.6v7.8h-2.6zM110.4,412.15h2.6v7.8h-2.6zM141.7,412.15h2.6v7.8h-2.6zM230.5,412.15h2.6v7.8h-2.6zM254.0,412.15h5.2v7.8h-5.2zM277.5,412.15h7.8v7.8h-7.8zM290.6,412.15h5.2v7.8h-5.2zM337.6,412.15h2.6v7.8h-2.6zM340.2,412.15h5.2v7.8h-5.2zM350.6,412.15h5.2v7.8h-5.2zM355.8,412.15h2.6v7.8h-2.6zM363.7,412.15h2.6v7.8h-2.6zM376.7,412.15h7.8v7.8h-7.8zM410.7,412.15h2.6v7.8h-2.6zM71.2,423.10h2.6v7.8h-2.6zM120.8,423.10h5.2v7.8h-5.2zM152.2,423.10h5.2v7.8h-5.2zM264.4,423.10h5.2v7.8h-5.2zM374.1,423.10h5.2v7.8h-5.2zM99.9,434.05h5.2v7.8h-5.2zM107.8,434.05h7.8v7.8h-7.8zM280.1,434.05h5.2v7.8h-5.2zM382.0,434.05h7.8v7.8h-7.8zM400.2,434.05h5.2v7.8h-5.2zM79.1,445.00h2.6v7.8h-2.6zM84.3,445.00h2.6v7.8h-2.6zM136.5,445.00h2.6v7.8h-2.6zM196.6,445.00h2.6v7.8h-2.6zM214.8,445.00h5.2v7.8h-5.2zM238.3,445.00h7.8v7.8h-7.8zM251.4,445.00h2.6v7.8h-2.6zM259.2,445.00h2.6v7.8h-2.6zM324.5,445.00h2.6v7.8h-2.6zM376.7,445.00h7.8v7.8h-7.8zM397.6,445.00h5.2v7.8h-5.2zM115.6,455.95h2.6v7.8h-2.6zM136.5,455.95h7.8v7.8h-7.8zM154.8,455.95h2.6v7.8h-2.6zM173.1,455.95h2.6v7.8h-2.6zM186.1,455.95h2.6v7.8h-2.6zM191.3,455.95h5.2v7.8h-5.2zM196.6,455.95h5.2v7.8h-5.2zM201.8,455.95h5.2v7.8h-5.2zM214.8,455.95h7.8v7.8h-7.8zM248.8,455.95h2.6v7.8h-2.6zM254.0,455.95h2.6v7.8h-2.6zM290.6,455.95h2.6v7.8h-2.6zM340.2,455.95h2.6v7.8h-2.6zM426.3,455.95h2.6v7.8h-2.6zM73.8,466.90h5.2v7.8h-5.2zM94.7,466.90h7.8v7.8h-7.8zM126.1,466.90h2.6v7.8h-2.6zM136.5,466.90h2.6v7.8h-2.6zM141.7,466.90h5.2v7.8h-5.2zM199.2,466.90h2.6v7.8h-2.6zM274.9,466.90h5.2v7.8h-5.2zM316.7,466.90h5.2v7.8h-5.2zM324.5,466.90h5.2v7.8h-5.2zM366.3,466.90h2.6v7.8h-2.6zM402.8,466.90h7.8v7.8h-7.8z"/>
<rect x="239.9" y="258.85" width="2.8" height="7.8" fill="#ff1414"/>
<rect x="242.7" y="258.85" width="2.8" height="7.8" fill="#ffdc00"/>
<rect x="253.0" y="258.85" width="2.4" height="7.8" fill="#86ba0a"/>
<rect x="255.4" y="258.85" width="2.4" height="7.8" fill="#5aa808"/>
<rect x="138.0" y="258.85" width="2.0" height="7.8" fill="#1e9012"/>
<rect x="148.6" y="258.85" width="0.8" height="7.8" fill="#7fbf7f"/>
<rect x="84.0" y="269.80" width="2.0" height="7.8" fill="#1e9012"/>
<rect x="142.0" y="269.80" width="2.0" height="7.8" fill="#1e9012"/>
<rect x="163.0" y="269.80" width="2.0" height="7.8" fill="#1e9012"/>
<rect x="190.0" y="269.80" width="2.0" height="7.8" fill="#1e9012"/>
<rect x="211.5" y="280.75" width="2.7" height="7.8" fill="#ff9400"/>
<rect x="214.2" y="280.75" width="2.6" height="7.8" fill="#ffac00"/>
<rect x="110.0" y="280.75" width="2.0" height="7.8" fill="#1e9012"/>
<rect x="152.2" y="280.75" width="1.8" height="7.8" fill="#8cbc0a"/>
<rect x="363.0" y="280.75" width="2.0" height="7.8" fill="#1e9012"/>
<rect x="97.0" y="291.70" width="0.9" height="7.8" fill="#9ccf9c"/>
<rect x="216.9" y="291.70" width="1.7" height="7.8" fill="#8cbc0a"/>
<rect x="218.6" y="291.70" width="2.3" height="7.8" fill="#f0e800"/>
<rect x="387.2" y="291.70" width="2.2" height="7.8" fill="#b4d200"/>
<rect x="66.0" y="302.65" width="16.1" height="7.8" fill="#c2c2c2"/>
<rect x="235.6" y="302.65" width="2.6" height="7.8" fill="#a0c80a"/>
<rect x="170.7" y="313.60" width="2.3" height="7.8" fill="#c8dc00"/>
<rect x="209.7" y="313.60" width="2.1" height="7.8" fill="#f0e800"/>
<rect x="132.7" y="313.60" width="0.7" height="7.8" fill="#8cc88c"/>
<rect x="122.8" y="324.55" width="2.0" height="7.8" fill="#78b408"/>
<rect x="264.9" y="324.55" width="2.0" height="7.8" fill="#5aa808"/>
<rect x="269.2" y="324.55" width="2.1" height="7.8" fill="#e0e000"/>
<rect x="115.2" y="335.50" width="2.4" height="7.8" fill="#b4d200"/>
<rect x="117.6" y="335.50" width="2.4" height="7.8" fill="#a0c80a"/>
<rect x="123.1" y="335.50" width="2.6" height="7.8" fill="#f0e800"/>
<rect x="128.0" y="335.50" width="2.0" height="7.8" fill="#1e9012"/>
<rect x="79.8" y="346.45" width="1.8" height="7.8" fill="#4aa208"/>
<rect x="373.1" y="346.45" width="1.9" height="7.8" fill="#a0c80a"/>
<rect x="211.0" y="357.40" width="2.3" height="7.8" fill="#e6e000"/>
<rect x="213.3" y="357.40" width="2.7" height="7.8" fill="#ff1e0a"/>
<rect x="216.0" y="357.40" width="2.7" height="7.8" fill="#ff7800"/>
<rect x="218.7" y="357.40" width="2.7" height="7.8" fill="#ffee00"/>
<rect x="273.3" y="357.40" width="2.5" height="7.8" fill="#8cbc0a"/>
<rect x="199.0" y="357.40" width="1.4" height="7.8" fill="#2e9c10"/>
<rect x="102.1" y="368.35" width="0.8" height="7.8" fill="#9fb79f"/>
<rect x="123.1" y="379.30" width="2.1" height="7.8" fill="#8cbc0a"/>
<rect x="297.4" y="379.30" width="1.9" height="7.8" fill="#78b408"/>
<rect x="157.0" y="390.25" width="2.6" height="7.8" fill="#dce000"/>
<rect x="238.2" y="390.25" width="2.0" height="7.8" fill="#b4d200"/>
<rect x="240.2" y="390.25" width="2.4" height="7.8" fill="#f0e800"/>
<rect x="263.6" y="390.25" width="2.1" height="7.8" fill="#b4d200"/>
<rect x="370.5" y="390.25" width="2.1" height="7.8" fill="#a0c80a"/>
<rect x="443.8" y="390.25" width="1.9" height="7.8" fill="#8cbc0a"/>
<rect x="174.9" y="401.20" width="1.1" height="7.8" fill="#b8c4b8"/>
<rect x="376.2" y="401.20" width="0.7" height="7.8" fill="#8cc88c"/>
<rect x="268.6" y="401.20" width="3.2" height="7.8" fill="#c2c2c2"/>
<rect x="271.8" y="401.20" width="1.0" height="7.8" fill="#7fae7f"/>
<rect x="276.6" y="401.20" width="0.6" height="7.8" fill="#9fc09f"/>
<rect x="278.6" y="401.20" width="1.9" height="7.8" fill="#c2c2c2"/>
<rect x="281.4" y="401.20" width="2.4" height="7.8" fill="#c2c2c2"/>
<rect x="284.7" y="401.20" width="2.6" height="7.8" fill="#c2c2c2"/>
<rect x="288.4" y="401.20" width="1.6" height="7.8" fill="#c2c2c2"/>
<rect x="291.4" y="401.20" width="1.3" height="7.8" fill="#c2c2c2"/>
<rect x="293.8" y="401.20" width="1.2" height="7.8" fill="#c2c2c2"/>
<rect x="296.4" y="401.20" width="1.6" height="7.8" fill="#c2c2c2"/>
<rect x="298.6" y="401.20" width="1.9" height="7.8" fill="#c2c2c2"/>
<rect x="66.0" y="412.15" width="16.1" height="7.8" fill="#c2c2c2"/>
<rect x="134.3" y="412.15" width="2.6" height="7.8" fill="#ffbe00"/>
<rect x="281.7" y="412.15" width="0.7" height="7.8" fill="#cfe6cf"/>
<rect x="75.3" y="423.10" width="2.0" height="7.8" fill="#4a9060"/>
<rect x="235.4" y="423.10" width="1.6" height="7.8" fill="#6aae08"/>
<rect x="245.7" y="423.10" width="1.7" height="7.8" fill="#4aa208"/>
<rect x="251.2" y="423.10" width="1.1" height="7.8" fill="#4aa208"/>
<rect x="253.8" y="423.10" width="1.1" height="7.8" fill="#b4d4b4"/>
<rect x="255.5" y="423.10" width="1.9" height="7.8" fill="#0a5c30"/>
<rect x="257.5" y="423.10" width="1.0" height="7.8" fill="#a8cca8"/>
<rect x="259.7" y="423.10" width="1.3" height="7.8" fill="#e6f0e6"/>
<rect x="261.0" y="423.10" width="2.0" height="7.8" fill="#026402"/>
<rect x="120.6" y="434.05" width="2.3" height="7.8" fill="#dce000"/>
<rect x="144.2" y="434.05" width="2.1" height="7.8" fill="#8cbc0a"/>
<rect x="267.0" y="434.05" width="2.7" height="7.8" fill="#f4ee00"/>
<rect x="273.0" y="434.05" width="1.6" height="7.8" fill="#5aa808"/>
<rect x="394.7" y="434.05" width="2.3" height="7.8" fill="#a0c80a"/>
<rect x="65.9" y="445.00" width="2.7" height="7.8" fill="#b4bcb4"/>
<rect x="240.0" y="445.00" width="2.4" height="7.8" fill="#ff9600"/>
<rect x="242.4" y="445.00" width="2.5" height="7.8" fill="#ffc400"/>
<rect x="250.1" y="445.00" width="3.4" height="7.8" fill="#ff1e0a"/>
<rect x="84.7" y="455.95" width="1.9" height="7.8" fill="#8cbc0a"/>
<rect x="155.0" y="455.95" width="1.4" height="7.8" fill="#1e9012"/>
<rect x="230.6" y="455.95" width="2.0" height="7.8" fill="#5aa808"/>
<rect x="243.4" y="455.95" width="2.6" height="7.8" fill="#c8dc00"/>
<rect x="264.8" y="455.95" width="2.2" height="7.8" fill="#8cbc0a"/>
<rect x="267.0" y="455.95" width="2.7" height="7.8" fill="#c4d800"/>
<rect x="269.7" y="455.95" width="1.1" height="7.8" fill="#3c9a0a"/>
<rect x="470.8" y="455.95" width="1.4" height="7.8" fill="#1e9012"/>
<rect x="191.5" y="466.90" width="1.6" height="7.8" fill="#78b408"/>
<rect x="395.4" y="466.90" width="1.4" height="7.8" fill="#1e9012"/>
<rect x="440.2" y="466.90" width="2.4" height="7.8" fill="#b4d200"/>
</g>
<text x="50.6" y="264.95" font-size="5.5" fill="#2c2c2c" textLength="12.5" lengthAdjust="spacingAndGlyphs" >Chr1</text>
<text x="50.6" y="275.90" font-size="5.5" fill="#2c2c2c" textLength="12.5" lengthAdjust="spacingAndGlyphs" >Chr2</text>
<text x="50.6" y="286.85" font-size="5.5" fill="#2c2c2c" textLength="12.5" lengthAdjust="spacingAndGlyphs" >Chr3</text>
<text x="50.6" y="297.80" font-size="5.5" fill="#2c2c2c" textLength="12.5" lengthAdjust="spacingAndGlyphs" >Chr4</text>
<text x="50.6" y="308.75" font-size="5.5" fill="#2c2c2c" textLength="12.5" lengthAdjust="spacingAndGlyphs" >Chr5</text>
<text x="50.6" y="319.70" font-size="5.5" fill="#2c2c2c" textLength="12.5" lengthAdjust="spacingAndGlyphs" >Chr6</text>
<text x="50.6" y="330.65" font-size="5.5" fill="#2c2c2c" textLength="12.5" lengthAdjust="spacingAndGlyphs" >Chr7</text>
<text x="50.6" y="341.60" font-size="5.5" fill="#2c2c2c" textLength="12.5" lengthAdjust="spacingAndGlyphs" >Chr8</text>
<text x="50.6" y="352.55" font-size="5.5" fill="#2c2c2c" textLength="12.5" lengthAdjust="spacingAndGlyphs" >Chr9</text>
<text x="50.6" y="363.50" font-size="5.5" fill="#2c2c2c" textLength="15.6" lengthAdjust="spacingAndGlyphs" transform="translate(-3.1,0)">Chr10</text>
<text x="50.6" y="374.45" font-size="5.5" fill="#2c2c2c" textLength="15.6" lengthAdjust="spacingAndGlyphs" transform="translate(-3.1,0)">Chr11</text>
<text x="50.6" y="385.40" font-size="5.5" fill="#2c2c2c" textLength="15.6" lengthAdjust="spacingAndGlyphs" transform="translate(-3.1,0)">Chr12</text>
<text x="50.6" y="396.35" font-size="5.5" fill="#2c2c2c" textLength="15.6" lengthAdjust="spacingAndGlyphs" transform="translate(-3.1,0)">Chr13</text>
<text x="50.6" y="407.30" font-size="5.5" fill="#2c2c2c" textLength="15.6" lengthAdjust="spacingAndGlyphs" transform="translate(-3.1,0)">Chr14</text>
<text x="50.6" y="418.25" font-size="5.5" fill="#2c2c2c" textLength="15.6" lengthAdjust="spacingAndGlyphs" transform="translate(-3.1,0)">Chr15</text>
<text x="50.6" y="429.20" font-size="5.5" fill="#2c2c2c" textLength="15.6" lengthAdjust="spacingAndGlyphs" transform="translate(-3.1,0)">Chr16</text>
<text x="50.6" y="440.15" font-size="5.5" fill="#2c2c2c" textLength="15.6" lengthAdjust="spacingAndGlyphs" transform="translate(-3.1,0)">Chr17</text>
<text x="50.6" y="451.10" font-size="5.5" fill="#2c2c2c" textLength="15.6" lengthAdjust="spacingAndGlyphs" transform="translate(-3.1,0)">Chr18</text>
<text x="50.6" y="462.05" font-size="5.5" fill="#2c2c2c" textLength="15.6" lengthAdjust="spacingAndGlyphs" transform="translate(-3.1,0)">Chr19</text>
<text x="50.6" y="473.00" font-size="5.5" fill="#2c2c2c" textLength="15.6" lengthAdjust="spacingAndGlyphs" transform="translate(-3.1,0)">Chr20</text>
<rect x="493.0" y="339.00" width="13.6" height="11.30" fill="#c2c2c2"/>
<text x="508.7" y="348.30" font-size="9" fill="#1a1a1a" stroke="#1a1a1a" stroke-width="0.12" textLength="5.3" lengthAdjust="spacingAndGlyphs">0</text>
<rect x="493.0" y="350.10" width="13.6" height="11.30" fill="#006400"/>
<text x="508.7" y="359.40" font-size="9" fill="#1a1a1a" stroke="#1a1a1a" stroke-width="0.12" textLength="5.3" lengthAdjust="spacingAndGlyphs">1</text>
<rect x="493.0" y="361.20" width="13.6" height="11.30" fill="#068a06"/>
<text x="508.7" y="370.50" font-size="9" fill="#1a1a1a" stroke="#1a1a1a" stroke-width="0.12" textLength="23.3" lengthAdjust="spacingAndGlyphs">1536</text>
<rect x="493.0" y="372.30" width="13.6" height="11.30" fill="#4aa206"/>
<text x="508.7" y="381.60" font-size="9" fill="#1a1a1a" stroke="#1a1a1a" stroke-width="0.12" textLength="23.3" lengthAdjust="spacingAndGlyphs">3071</text>
<rect x="493.0" y="383.40" width="13.6" height="11.30" fill="#9cc400"/>
<text x="508.7" y="392.70" font-size="9" fill="#1a1a1a" stroke="#1a1a1a" stroke-width="0.12" textLength="23.3" lengthAdjust="spacingAndGlyphs">4606</text>
<rect x="493.0" y="394.50" width="13.6" height="11.30" fill="#ecec00"/>
<text x="508.7" y="403.80" font-size="9" fill="#1a1a1a" stroke="#1a1a1a" stroke-width="0.12" textLength="23.3" lengthAdjust="spacingAndGlyphs">6141</text>
<rect x="493.0" y="405.60" width="13.6" height="11.30" fill="#ffd800"/>
<text x="508.7" y="414.90" font-size="9" fill="#1a1a1a" stroke="#1a1a1a" stroke-width="0.12" textLength="23.3" lengthAdjust="spacingAndGlyphs">7676</text>
<rect x="493.0" y="416.70" width="13.6" height="11.30" fill="#ffa400"/>
<text x="508.7" y="426.00" font-size="9" fill="#1a1a1a" stroke="#1a1a1a" stroke-width="0.12" textLength="23.3" lengthAdjust="spacingAndGlyphs">9211</text>
<rect x="493.0" y="427.80" width="13.6" height="11.30" fill="#ff6e00"/>
<text x="508.7" y="437.10" font-size="9" fill="#1a1a1a" stroke="#1a1a1a" stroke-width="0.12" textLength="29.2" lengthAdjust="spacingAndGlyphs">10746</text>
<rect x="493.0" y="438.90" width="13.6" height="11.30" fill="#ff3c0a"/>
<text x="508.7" y="448.20" font-size="9" fill="#1a1a1a" stroke="#1a1a1a" stroke-width="0.12" textLength="29.2" lengthAdjust="spacingAndGlyphs">12281</text>
<rect x="493.0" y="450.00" width="13.6" height="11.30" fill="#ff1414"/>
<text x="508.7" y="459.30" font-size="9" fill="#1a1a1a" stroke="#1a1a1a" stroke-width="0.12" textLength="29.2" lengthAdjust="spacingAndGlyphs">13816</text>
<rect x="493.0" y="461.10" width="13.6" height="11.30" fill="#ff1414"/>
<text x="508.7" y="470.40" font-size="9" fill="#1a1a1a" stroke="#1a1a1a" stroke-width="0.12" textLength="35.6" lengthAdjust="spacingAndGlyphs">>13816</text>
</svg></body></html>
